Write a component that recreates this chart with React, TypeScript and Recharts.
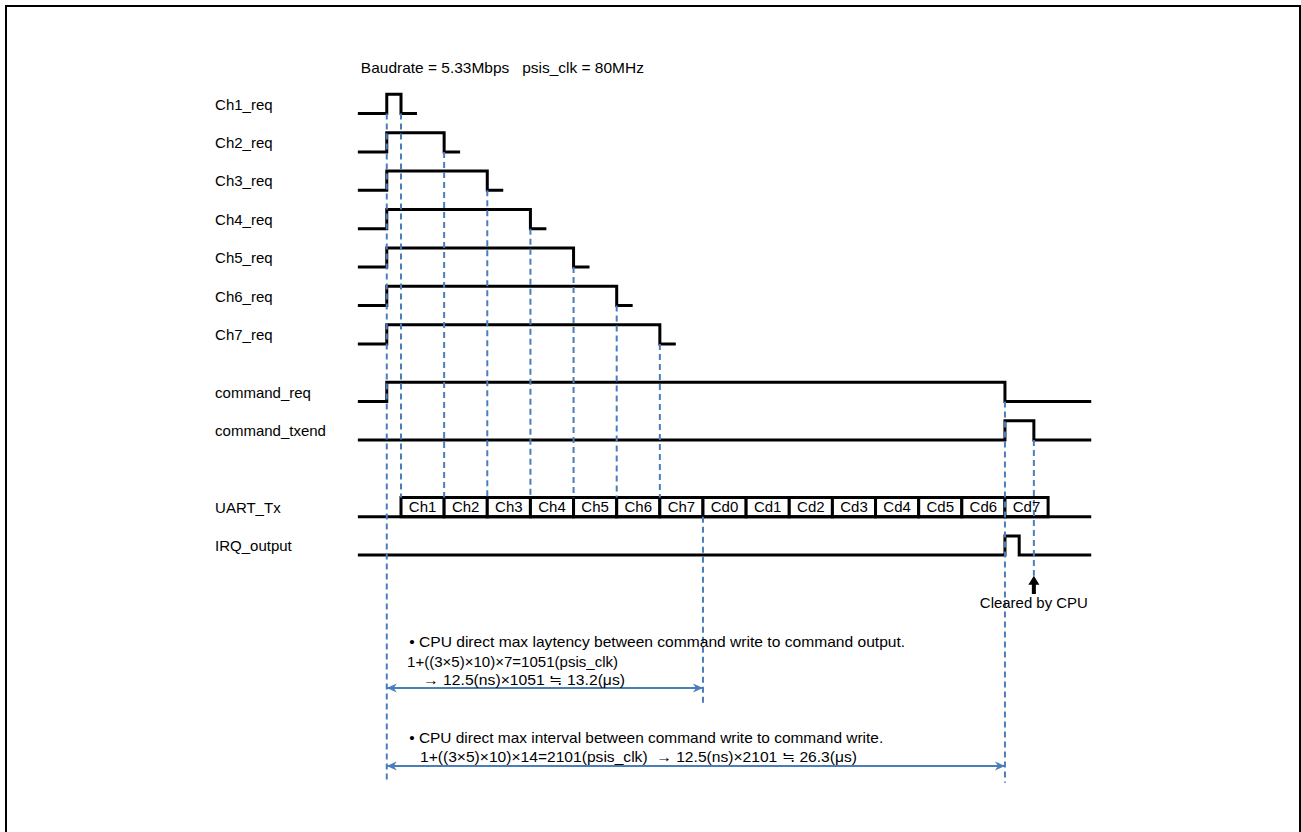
import React from 'react';
import { ComposedChart, Line, XAxis, YAxis, ReferenceLine, ReferenceArea, ReferenceDot } from 'recharts';

// x: time in UART frames (0 = start of Ch1 frame), y: signal lanes (row = low level)
const title = 'Baudrate = 5.33Mbps\u00a0\u00a0\u00a0psis_clk = 80MHz';

const reqNames = ['Ch1_req', 'Ch2_req', 'Ch3_req', 'Ch4_req', 'Ch5_req', 'Ch6_req', 'Ch7_req'];
const reqRows = [0, 1, 2, 3, 4, 5, 6];
const reqFall = [0, 1, 2, 3, 4, 5, 6];
const reqRise = -0.33;
const reqTail = 0.37;
const traceStart = -1;
const traceEnd = 16;

const lowerNames = ['command_req', 'command_txend', 'UART_Tx', 'IRQ_output'];
const lowerRows = [7.5, 8.5, 10.5, 11.5];
const cmdReqEdges = [-0.33, 14];
const txendEdges = [14, 14.67];
const irqEdges = [14, 14.33];

const uartFrames = ['Ch1', 'Ch2', 'Ch3', 'Ch4', 'Ch5', 'Ch6', 'Ch7', 'Cd0', 'Cd1', 'Cd2', 'Cd3', 'Cd4', 'Cd5', 'Cd6', 'Cd7'];
const uartStart = 0;

const latencyEnd = 7;
const intervalEnd = 14;
const clearedAt = 14.67;

const note1 = [
  '\u2022 CPU direct max laytency between command write to command output.',
  '1+((3\u00d75)\u00d710)\u00d77=1051(psis_clk)',
  '\u2192 12.5(ns)\u00d71051 \u2252 13.2(\u03bcs)',
];
const note2 = [
  '\u2022 CPU direct max interval between command write to command write.',
  '1+((3\u00d75)\u00d710)\u00d714=2101(psis_clk)\u00a0\u00a0\u2192 12.5(ns)\u00d72101 \u2252 26.3(\u03bcs)',
];
const clearedLabel = 'Cleared by CPU';

// layout
const W = 1301;
const H = 832;
const X0 = 401;
const XU = 43.14;
const Y0 = 113.5;
const YU = 38.4;
const HIGH = 0.5;
const FONT = '"Liberation Sans", Arial, sans-serif';
const BLUE = '#4A7EBB';
const labelX = -4.31;
const bottomRow = 17.43;
const uartTop = lowerRows[2] - HIGH;

const pulse = (row: number, rise: number, fall: number, end: number) => [
  { t: traceStart, v: row },
  { t: rise, v: row - HIGH },
  { t: fall, v: row },
  { t: end, v: row },
];

const reqSeries = reqRows.map((row, i) => pulse(row, reqRise, reqFall[i], reqFall[i] + reqTail));
const cmdSeries = pulse(lowerRows[0], cmdReqEdges[0], cmdReqEdges[1], traceEnd);
const txendSeries = pulse(lowerRows[1], txendEdges[0], txendEdges[1], traceEnd);
const irqSeries = pulse(lowerRows[3], irqEdges[0], irqEdges[1], traceEnd);
const uartSeries = [
  { t: traceStart, v: lowerRows[2] },
  { t: traceEnd, v: lowerRows[2] },
];

const markers = [
  { t: reqRise, from: reqRows[0], to: bottomRow },
  ...reqFall.map((t, i) => ({ t, from: reqRows[i], to: uartTop })),
  { t: latencyEnd, from: lowerRows[2], to: 15.35 },
  { t: intervalEnd, from: lowerRows[0], to: bottomRow },
  { t: clearedAt, from: lowerRows[1], to: 12.04 },
];

const spans = [
  { from: reqRise, to: latencyEnd, row: 14.96 },
  { from: reqRise, to: intervalEnd, row: 16.99 },
];

const texts = [
  { x: -0.93, y: -1.06, s: title, len: 283 },
  { x: 0.19, y: 13.89, s: note1[0], len: 496 },
  { x: 0.14, y: 14.41, s: note1[1], len: 211 },
  { x: 0.51, y: 14.88, s: note1[2], len: 202 },
  { x: 0.19, y: 16.39, s: note2[0], len: 474 },
  { x: 0.44, y: 16.88, s: note2[1], len: 437 },
];

const textShape = (s: string, anchor: string, len?: number) => (p: any) => (
  <text
    x={p.cx}
    y={p.cy}
    textAnchor={anchor}
    fontFamily={FONT}
    fontSize={15}
    fill="#000"
    textLength={len}
    lengthAdjust={len ? 'spacingAndGlyphs' : undefined}
  >
    {s}
  </text>
);

const doubleArrow = (p: any) => {
  const { x1, y1, x2 } = p;
  const a = Math.min(x1, x2);
  const b = Math.max(x1, x2);
  return (
    <g>
      <line x1={a} y1={y1} x2={b} y2={y1} stroke={BLUE} strokeWidth={2} />
      <polygon points={`${a},${y1} ${a + 10},${y1 - 4.5} ${a + 7},${y1} ${a + 10},${y1 + 4.5}`} fill={BLUE} />
      <polygon points={`${b},${y1} ${b - 10},${y1 - 4.5} ${b - 7},${y1} ${b - 10},${y1 + 4.5}`} fill={BLUE} />
    </g>
  );
};

const blockArrow = (p: any) => {
  const { x1, y1, y2 } = p;
  const top = Math.min(y1, y2);
  const bot = Math.max(y1, y2);
  return (
    <polygon
      points={`${x1},${top} ${x1 + 5.5},${top + 9} ${x1 + 2},${top + 9} ${x1 + 2},${bot} ${x1 - 2},${bot} ${x1 - 2},${top + 9} ${x1 - 5.5},${top + 9}`}
      fill="#000"
    />
  );
};

export default function App() {
  const signals = [...reqSeries, cmdSeries, txendSeries, irqSeries, uartSeries];
  return (
    <div style={{ position: 'absolute', left: 0, top: 0, width: W, height: H, overflow: 'hidden', background: '#fff' }}>
      <div
        style={{
          position: 'absolute',
          left: 5,
          top: 5,
          width: W - 5,
          height: H,
          boxSizing: 'border-box',
          borderTop: '2px solid #000',
          borderLeft: '2px solid #000',
          borderRight: '2px solid #000',
        }}
      />
      <div style={{ position: 'absolute', left: 0, top: 0 }}>
        <ComposedChart width={W} height={H} margin={{ top: 0, right: 0, bottom: 0, left: 0 }}>
          <XAxis
            type="number"
            dataKey="t"
            domain={[-X0 / XU, (W - X0) / XU]}
            allowDataOverflow
            hide
          />
          <YAxis type="number" dataKey="v" domain={[-Y0 / YU, (H - Y0) / YU]} reversed allowDataOverflow hide />
          {signals.map((d, i) => (
            <Line
              key={`sig${i}`}
              data={d}
              dataKey="v"
              type="stepAfter"
              stroke="#000"
              strokeWidth={3}
              strokeLinejoin="miter"
              dot={false}
              activeDot={false}
              isAnimationActive={false}
            />
          ))}
          {uartFrames.map((f, i) => (
            <ReferenceArea
              key={f}
              x1={uartStart + i}
              x2={uartStart + i + 1}
              y1={uartTop}
              y2={lowerRows[2]}
              fill="#fff"
              fillOpacity={1}
              stroke="#000"
              strokeWidth={3}
              ifOverflow="visible"
              label={{ value: f, position: 'center', fill: '#000', fontSize: 15, fontFamily: FONT }}
            />
          ))}
          {markers.map((m, i) => (
            <ReferenceLine
              key={`m${i}`}
              segment={[
                { x: m.t, y: m.from },
                { x: m.t, y: m.to },
              ]}
              stroke={BLUE}
              strokeWidth={2}
              strokeDasharray="6 4"
              ifOverflow="visible"
            />
          ))}
          {spans.map((s, i) => (
            <ReferenceLine
              key={`s${i}`}
              segment={[
                { x: s.from, y: s.row },
                { x: s.to, y: s.row },
              ]}
              ifOverflow="visible"
              shape={doubleArrow}
            />
          ))}
          <ReferenceLine
            segment={[
              { x: clearedAt, y: 12.04 },
              { x: clearedAt, y: 12.51 },
            ]}
            ifOverflow="visible"
            shape={blockArrow}
          />
          {reqNames.map((n, i) => (
            <ReferenceDot key={n} x={labelX} y={reqRows[i] - 0.1} r={0} ifOverflow="visible" shape={textShape(n, 'start')} />
          ))}
          {lowerNames.map((n, i) => (
            <ReferenceDot key={n} x={labelX} y={lowerRows[i] - 0.1} r={0} ifOverflow="visible" shape={textShape(n, 'start')} />
          ))}
          {texts.map((t, i) => (
            <ReferenceDot key={`t${i}`} x={t.x} y={t.y} r={0} ifOverflow="visible" shape={textShape(t.s, 'start', t.len)} />
          ))}
          <ReferenceDot x={clearedAt} y={12.88} r={0} ifOverflow="visible" shape={textShape(clearedLabel, 'middle', 108)} />
        </ComposedChart>
      </div>
    </div>
  );
}
